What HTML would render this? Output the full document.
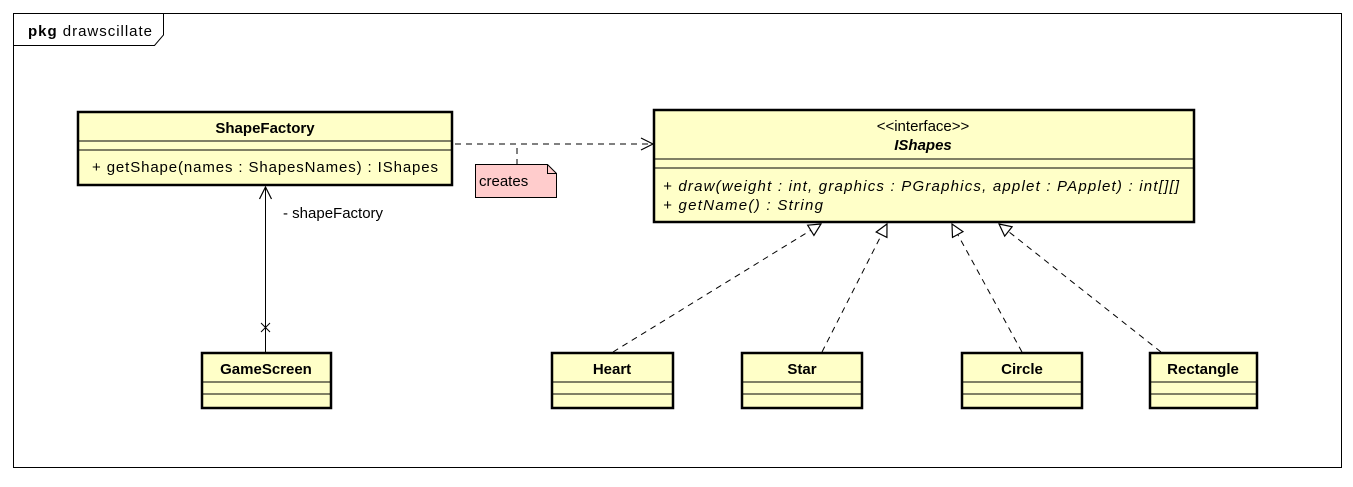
<!DOCTYPE html>
<html><head><meta charset="utf-8"><style>
body{margin:0;background:#fff;}
svg text{font-family:"Liberation Sans",sans-serif;font-size:15px;fill:#000}
</style></head><body>
<svg width="1353" height="482" viewBox="0 0 1353 482" xmlns="http://www.w3.org/2000/svg">
<defs>
<marker id="tri" viewBox="0 0 14 14" refX="13" refY="7" markerWidth="14" markerHeight="14" markerUnits="userSpaceOnUse" orient="auto">
<path d="M1,1 L13,7 L1,13 Z" fill="#fff" stroke="#000" stroke-width="1.2"/>
</marker>
<marker id="open" viewBox="0 0 14 14" refX="13" refY="7" markerWidth="14" markerHeight="14" markerUnits="userSpaceOnUse" orient="auto">
<path d="M1,1 L13,7 L1,13" fill="none" stroke="#000" stroke-width="1.2"/>
</marker>
</defs>
<rect x="13.5" y="13.5" width="1328" height="454" fill="#fff" stroke="#000" stroke-width="1"/>
<path d="M13.5,45.5 L154.5,45.5 L163.5,35 L163.5,13.5" fill="none" stroke="#000"/>
<text x="28" y="36" textLength="124"><tspan font-weight="bold">pkg</tspan> drawscillate</text>

<!-- ShapeFactory -->
<rect x="78" y="112" width="374" height="73" fill="#ffffc8" stroke="#000" stroke-width="2.5"/>
<line x1="78" y1="141" x2="452" y2="141" stroke="#000"/>
<line x1="78" y1="150" x2="452" y2="150" stroke="#000"/>
<text x="265" y="133" text-anchor="middle" font-weight="bold">ShapeFactory</text>
<text x="92" y="172" textLength="346">+ getShape(names : ShapesNames) : IShapes</text>

<!-- IShapes -->
<rect x="654" y="110" width="540" height="112" fill="#ffffc8" stroke="#000" stroke-width="2.5"/>
<line x1="654" y1="159" x2="1194" y2="159" stroke="#000"/>
<line x1="654" y1="168" x2="1194" y2="168" stroke="#000"/>
<text x="923" y="131" text-anchor="middle">&lt;&lt;interface&gt;&gt;</text>
<text x="923" y="150" text-anchor="middle" font-weight="bold" font-style="italic">IShapes</text>
<text x="663" y="191" font-style="italic" textLength="516">+ draw(weight : int, graphics : PGraphics, applet : PApplet) : int[][]</text>
<text x="663" y="210" font-style="italic" textLength="160">+ getName() : String</text>

<!-- dependency -->
<line x1="455" y1="144" x2="653" y2="144" stroke="#000" stroke-dasharray="6,5" marker-end="url(#open)"/>
<line x1="517" y1="148" x2="517" y2="164" stroke="#000" stroke-dasharray="6,5"/>
<path d="M475.5,164.5 L547.5,164.5 L556.5,173.5 L556.5,197.5 L475.5,197.5 Z" fill="#ffcccc" stroke="#000"/>
<path d="M547.5,164.5 L547.5,173.5 L556.5,173.5" fill="none" stroke="#000"/>
<text x="479" y="186">creates</text>

<!-- association -->
<line x1="265.5" y1="352" x2="265.5" y2="187" stroke="#000" marker-end="url(#open)"/>
<path d="M261,323 L270,332 M270,323 L261,332" stroke="#000"/>
<text x="283" y="218">- shapeFactory</text>

<!-- realizations -->
<line x1="613" y1="352" x2="821" y2="224" stroke="#000" stroke-dasharray="6,5" marker-end="url(#tri)"/>
<line x1="822" y1="352" x2="887" y2="224" stroke="#000" stroke-dasharray="6,5" marker-end="url(#tri)"/>
<line x1="1022" y1="352" x2="952" y2="224" stroke="#000" stroke-dasharray="6,5" marker-end="url(#tri)"/>
<line x1="1161" y1="352" x2="999" y2="224" stroke="#000" stroke-dasharray="6,5" marker-end="url(#tri)"/>

<!-- small classes -->
<g stroke="#000">
<rect x="202" y="353" width="129" height="55" fill="#ffffc8" stroke-width="2.5"/>
<line x1="202" y1="382" x2="331" y2="382"/><line x1="202" y1="394" x2="331" y2="394"/>
<rect x="552" y="353" width="121" height="55" fill="#ffffc8" stroke-width="2.5"/>
<line x1="552" y1="382" x2="673" y2="382"/><line x1="552" y1="394" x2="673" y2="394"/>
<rect x="742" y="353" width="120" height="55" fill="#ffffc8" stroke-width="2.5"/>
<line x1="742" y1="382" x2="862" y2="382"/><line x1="742" y1="394" x2="862" y2="394"/>
<rect x="962" y="353" width="120" height="55" fill="#ffffc8" stroke-width="2.5"/>
<line x1="962" y1="382" x2="1082" y2="382"/><line x1="962" y1="394" x2="1082" y2="394"/>
<rect x="1150" y="353" width="107" height="55" fill="#ffffc8" stroke-width="2.5"/>
<line x1="1150" y1="382" x2="1257" y2="382"/><line x1="1150" y1="394" x2="1257" y2="394"/>
</g>
<g font-weight="bold" text-anchor="middle">
<text x="266" y="374">GameScreen</text>
<text x="612" y="374">Heart</text>
<text x="802" y="374">Star</text>
<text x="1022" y="374">Circle</text>
<text x="1203" y="374">Rectangle</text>
</g>
</svg>
</body></html>
